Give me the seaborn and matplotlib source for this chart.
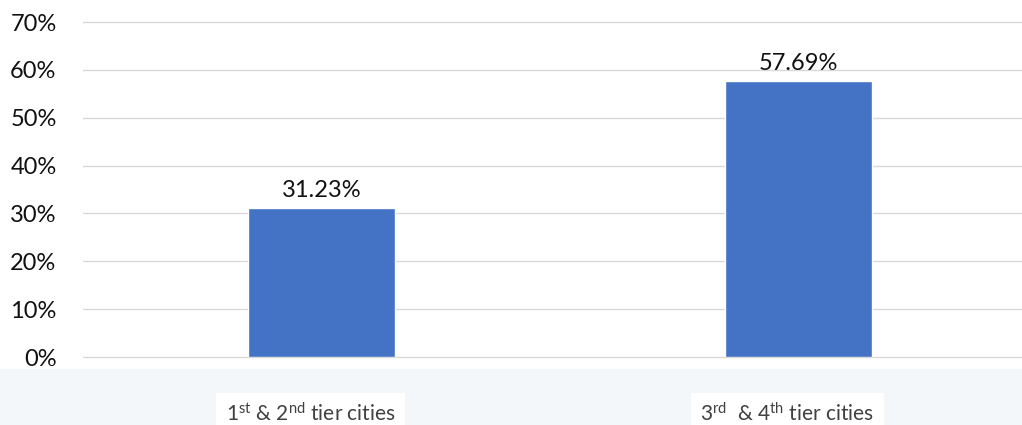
import numpy as np
import pandas as pd
import matplotlib
matplotlib.use('Agg')
import matplotlib.pyplot as plt
import seaborn as sns

categories = ['一二线城市', '三四线城市']
labels_en = ['1$^{st}$ & 2$^{nd}$ tier cities', '3$^{rd}$  & 4$^{th}$ tier cities']
shares = [0.3123, 0.5769]
yticks = [0, 0.1, 0.2, 0.3, 0.4, 0.5, 0.6, 0.7]

df = pd.DataFrame({'city': categories, 'share': shares})

sns.set_theme(style='white')
plt.rcParams['font.family'] = ['Lato', 'Noto Sans CJK SC', 'DejaVu Sans']
plt.rcParams['mathtext.default'] = 'regular'

fig = plt.figure(figsize=(10.22, 4.25), dpi=100)
W, H = 1022, 425
# pale backdrop strip along the bottom
fig.patches.append(plt.Rectangle((0, 0), 1, 56 / H, transform=fig.transFigure,
                                 facecolor='#f4f7fa', edgecolor='none', zorder=-5))
ax = fig.add_axes([83 / W, 68 / H, (1037 - 83) / W, 335 / H])
ax.patch.set_alpha(0)

sns.barplot(data=df, x='city', y='share', color='#4472C4', width=0.31,
            saturation=1, ax=ax, zorder=3)

ax.set_xlim(-0.5, 1.5)
ax.set_ylim(0, 0.7)
ax.set_yticks(yticks)
ax.set_yticklabels([f'{int(round(t * 100))}%' for t in yticks], fontsize=17, color='#111111')
ax.tick_params(axis='y', length=0, pad=19)
ax.grid(axis='y', color='#d9d9d9', linewidth=1, zorder=0)
for g in ax.get_ygridlines():
    g.set_clip_on(False)
for s in ax.spines.values():
    s.set_visible(False)
ax.set_xlabel('')
ax.set_ylabel('')
ax.set_xticks([0, 1])
ax.set_xticklabels([])
ax.tick_params(axis='x', length=0)

for i, v in enumerate(shares):
    ax.annotate(f'{v * 100:.2f}%', (i, v), xytext=(0, 5), textcoords='offset points',
                ha='center', va='bottom', fontsize=17, color='#111111')

for i, l in enumerate(labels_en):
    ax.annotate(l, (i, 0), xytext=(-8, -41), textcoords='offset points',
                ha='center', va='center', fontsize=15, color='#404040',
                annotation_clip=False,
                bbox=dict(facecolor='white', edgecolor='none', pad=7))

fig.savefig('out.png', dpi=100)
